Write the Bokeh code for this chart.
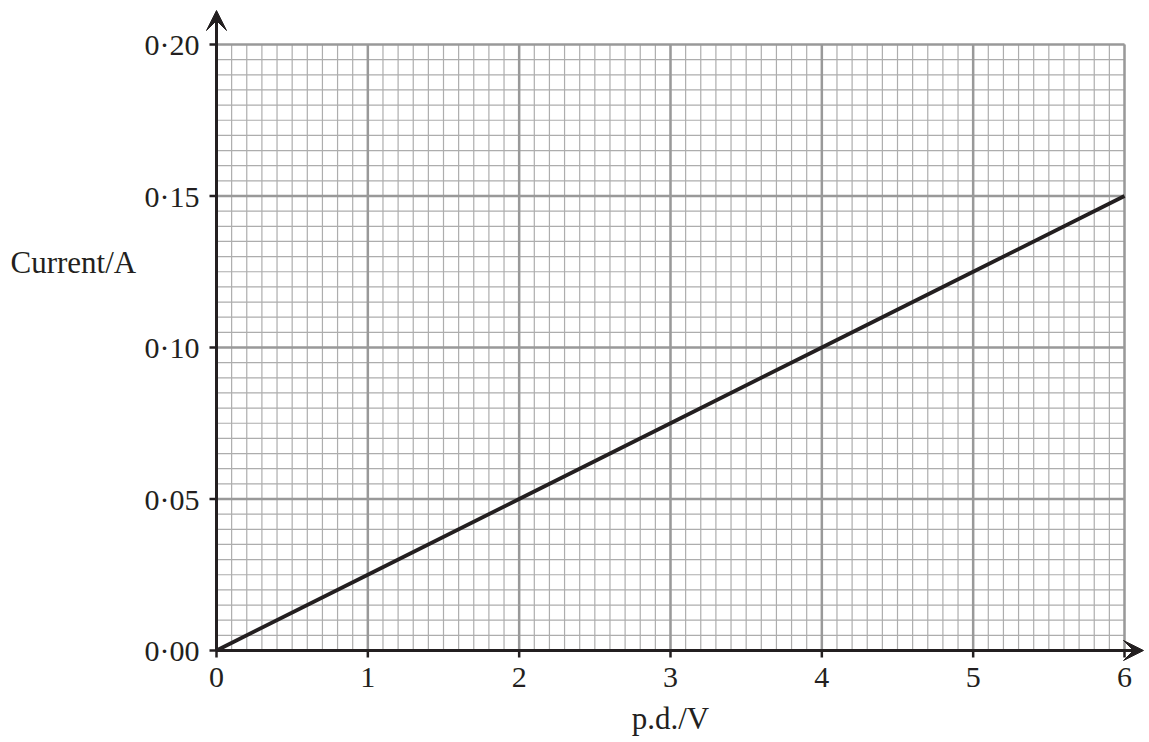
import numpy as np
from bokeh.plotting import figure
from bokeh.models import Range1d, Label, Arrow, VeeHead
from bokeh.core.properties import value
from bokeh.embed import file_html
from bokeh.resources import INLINE

# data
pd_values = [0, 1, 2, 3, 4, 5, 6]
current_values = [0.0, 0.025, 0.05, 0.075, 0.10, 0.125, 0.15]
x_ticks = [0, 1, 2, 3, 4, 5, 6]
x_tick_labels = ["0", "1", "2", "3", "4", "5", "6"]
y_ticks = [0.0, 0.05, 0.10, 0.15, 0.20]
y_tick_labels = ["0·00", "0·05", "0·10", "0·15", "0·20"]
x_title = "p.d./V"
y_title = "Current/A"

W, H = 1145, 740
PX_X = 908 / 6.0      # pixels per volt
PX_Y = 606 / 0.20     # pixels per amp
X0_PAGE, Y0_PAGE = 216, 650
X_MAX, Y_MAX = 6.0, 0.20
X_TIP = (1143 - X0_PAGE) / PX_X
Y_TIP = (Y0_PAGE - 10) / PX_Y
INK = "#231f20"
FONT = "Liberation Serif"

def dx(px):
    return px / PX_X

def dy(px):
    return px / PX_Y

p = figure(width=W, height=H,
           x_range=Range1d(-X0_PAGE / PX_X, (W - X0_PAGE) / PX_X),
           y_range=Range1d(-(H - Y0_PAGE) / PX_Y, Y0_PAGE / PX_Y),
           x_axis_location=None, y_axis_location=None,
           output_backend="svg", toolbar_location=None, min_border=0,
           background_fill_color="white", border_fill_color="white",
           outline_line_color=None)
p.xgrid.visible = False
p.ygrid.visible = False

# minor grid
xm = np.round(np.arange(0, 60.5) / 10.0, 3)
ym = np.round(np.arange(0, 40.5) * 0.005, 4)
p.segment(x0=xm, y0=0, x1=xm, y1=Y_MAX, line_color="#adadad", line_width=1.2)
p.segment(x0=0, y0=ym, x1=X_MAX, y1=ym, line_color="#adadad", line_width=1.2)
# major grid
p.segment(x0=x_ticks, y0=0, x1=x_ticks, y1=Y_MAX, line_color="#999999", line_width=2.5)
p.segment(x0=0, y0=y_ticks, x1=X_MAX, y1=y_ticks, line_color="#999999", line_width=2.5)

# data line
p.line(pd_values, current_values, line_color=INK, line_width=3.8)

# axis lines
p.segment(x0=[0, 0], y0=[0, 0], x1=[X_TIP - dx(6), 0], y1=[0, Y_TIP - dy(6)],
          line_color=INK, line_width=3)
# ticks
p.segment(x0=x_ticks, y0=0, x1=x_ticks, y1=-dy(7), line_color=INK, line_width=2.5)
p.segment(x0=0, y0=y_ticks, x1=-dx(7), y1=y_ticks, line_color=INK, line_width=2.5)

# tick labels
p.text(x=x_ticks, y=[-dy(27)] * len(x_ticks), text=x_tick_labels,
       text_align="center", text_baseline="middle", text_font=value(FONT),
       text_font_size="30px", text_color=INK)
p.text(x=[-dx(17)] * len(y_ticks), y=y_ticks, text=y_tick_labels,
       text_align="right", text_baseline="middle", text_font=value(FONT),
       text_font_size="30px", text_color=INK)

# arrow heads
p.add_layout(Arrow(end=VeeHead(size=20, fill_color=INK, line_color=INK, line_width=1),
                   x_start=0, y_start=Y_TIP - dy(22), x_end=0, y_end=Y_TIP,
                   line_color=INK, line_width=3))
p.add_layout(Arrow(end=VeeHead(size=20, fill_color=INK, line_color=INK, line_width=1),
                   x_start=X_TIP - dx(22), y_start=0, x_end=X_TIP, y_end=0,
                   line_color=INK, line_width=3))

# titles
p.add_layout(Label(x=3, y=-dy(68), text=x_title, text_align="center",
                   text_baseline="middle", text_font=FONT,
                   text_font_size="31px", text_color=INK))
p.add_layout(Label(x=dx(10 - X0_PAGE), y=dy(Y0_PAGE - 262), text=y_title,
                   text_align="left", text_baseline="middle", text_font=FONT,
                   text_font_size="31px", text_color=INK))

open("out.html", "w").write(file_html(p, INLINE))
